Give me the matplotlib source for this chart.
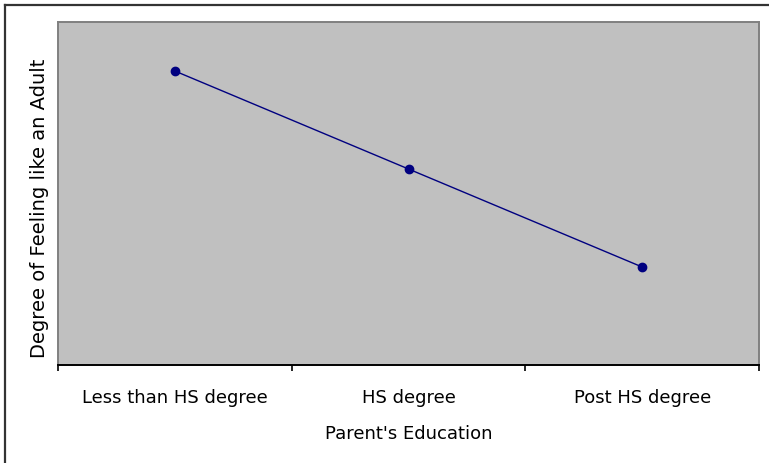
import matplotlib

matplotlib.use("Agg")
import matplotlib.pyplot as plt
from matplotlib.lines import Line2D

# parent's education groups and mean score for each
categories = ["Less than HS degree", "HS degree", "Post HS degree"]
scores = [3.0, 2.0, 1.0]
y_max = 3.5

plt.rcParams["font.family"] = ["DejaVu Sans"]

fig = plt.figure(figsize=(7.69, 4.63), dpi=100)
W, H = 769, 463

# chart frame: only the left and top edges fall inside the image
fig.add_artist(Line2D([5 / W, 5 / W], [0, 1 - 5 / H], transform=fig.transFigure,
                      color="#333333", lw=1.6))
fig.add_artist(Line2D([5 / W, 1], [1 - 5 / H, 1 - 5 / H], transform=fig.transFigure,
                      color="#333333", lw=1.6))

ax = fig.add_axes([58 / W, (H - 365) / H, 701 / W, 343 / H])
ax.set_facecolor("#c0c0c0")

x = list(range(len(categories)))
ax.plot(x, scores, color="#000080", lw=1.0, marker="o", markersize=6,
        markerfacecolor="#000080", markeredgecolor="#000080")

ax.set_xlim(-0.5, len(categories) - 0.5)
ax.set_ylim(0, y_max)

# tick marks sit between categories, labels sit under them
ax.set_xticks([i - 0.5 for i in range(len(categories) + 1)])
ax.set_xticklabels([])
ax.set_xticks(x, minor=True)
ax.set_xticklabels(categories, minor=True, fontsize=13)
ax.tick_params(axis="x", which="major", direction="out", length=4, width=1.2, color="black")
ax.tick_params(axis="x", which="minor", length=0, pad=17)
ax.set_yticks([])

for side in ("left", "top", "right"):
    ax.spines[side].set_color("#808080")
    ax.spines[side].set_linewidth(1.4)
ax.spines["bottom"].set_color("black")
ax.spines["bottom"].set_linewidth(1.4)

ax.set_xlabel("Parent's Education", fontsize=13, labelpad=13)
fig.text(40 / W, 1 - 208 / H, "Degree of Feeling like an Adult", rotation=90,
         ha="center", va="center", fontsize=14)

fig.savefig("out.png", dpi=100)
